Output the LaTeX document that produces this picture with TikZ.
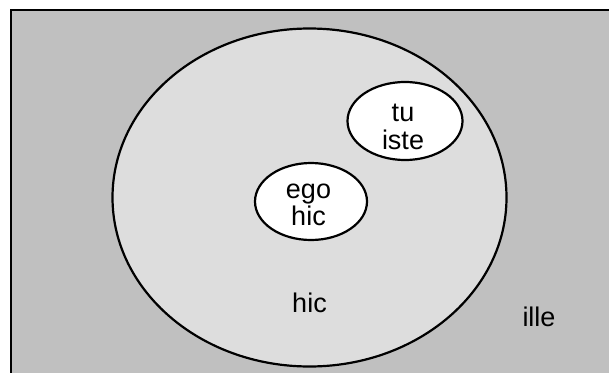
\documentclass[tikz,border=0pt]{standalone}
\usepackage{fontspec}
\setmainfont{Liberation Sans}
\usetikzlibrary{shapes.geometric}
\definecolor{outergray}{HTML}{C0C0C0}
\definecolor{innergray}{HTML}{DDDDDD}
\tikzset{
  setline/.style={draw=black, line width=2.2pt},
  lbl/.style={font=\fontsize{27}{27}\selectfont, align=center, inner sep=0pt},
}
\begin{document}
\begin{tikzpicture}[x=1pt,y=-1pt]
\useasboundingbox (0,0) rectangle (609,372);
\fill[white] (0,0) rectangle (609,372);
\draw[setline, fill=outergray] (11,10) rectangle (620,385);
\draw[setline, fill=innergray] (309.5,197.5) ellipse [x radius=197, y radius=169];
\draw[setline, fill=white] (405,121) ellipse [x radius=57.5, y radius=39];
\draw[setline, fill=white] (311,201.5) ellipse [x radius=56, y radius=38.5];
\node[lbl, anchor=base] (tu) at (403,121.7) {tu};
\node[lbl, anchor=base] (iste) at (403,149) {iste};
\node[lbl, anchor=base] (ego) at (308.5,198.3) {ego};
\node[lbl, anchor=base] (egohic) at (308.5,225) {hic};
\node[lbl, anchor=base] (hic) at (309.5,312) {hic};
\node[lbl, anchor=base] (ille) at (539,326.7) {ille};
\end{tikzpicture}
\end{document}
